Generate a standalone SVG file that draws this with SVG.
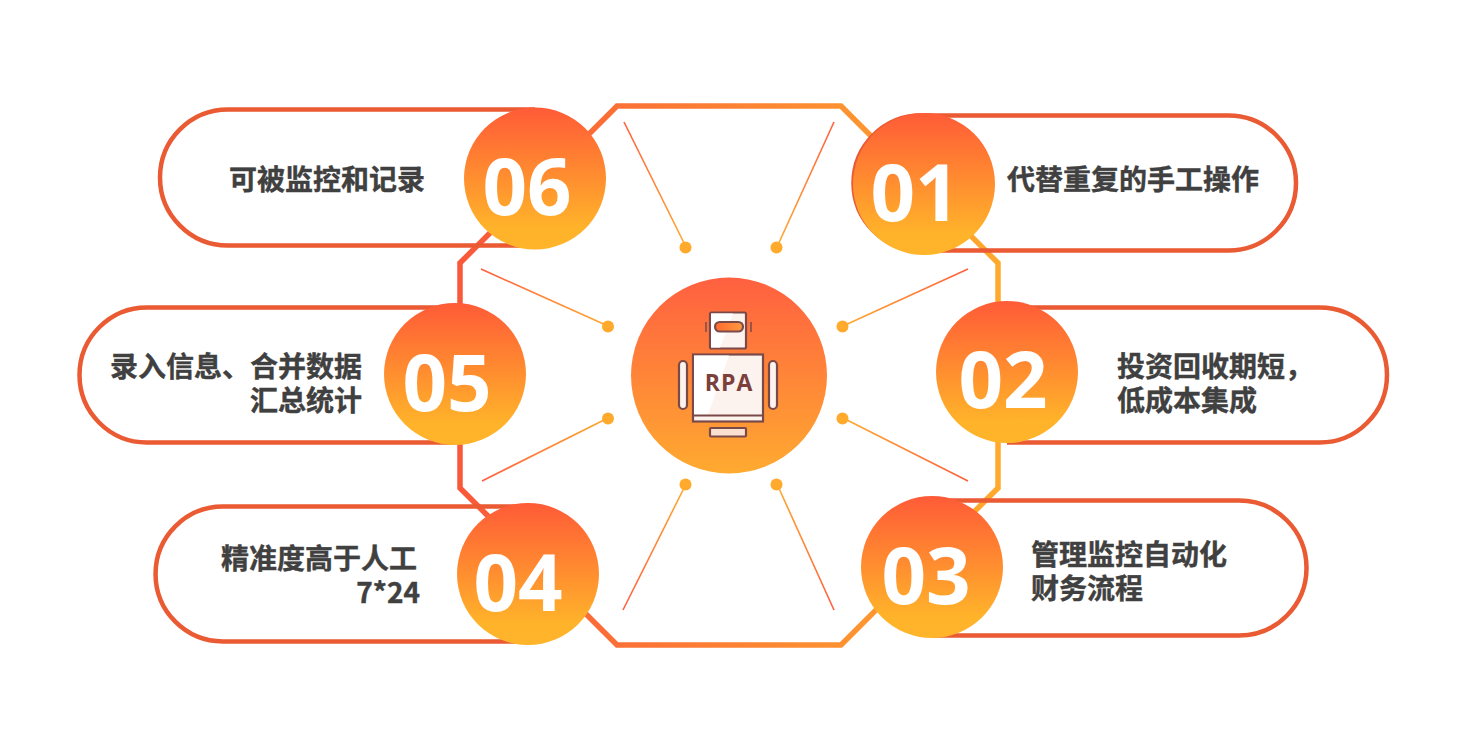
<svg xmlns="http://www.w3.org/2000/svg" width="1480" height="732" viewBox="0 0 1480 732">
<defs>
<linearGradient id="oct" gradientUnits="userSpaceOnUse" x1="460" y1="0" x2="999" y2="0"><stop offset="0" stop-color="#F9593A"/><stop offset="1" stop-color="#FFA92D"/></linearGradient>
<linearGradient id="disc" x1="0" y1="0" x2="0" y2="1"><stop offset="0" stop-color="#FF5B37"/><stop offset="0.85" stop-color="#FFB32A"/><stop offset="1" stop-color="#FFB42A"/></linearGradient>
<linearGradient id="hub" x1="0" y1="0" x2="0" y2="1"><stop offset="0" stop-color="#FF6040"/><stop offset="1" stop-color="#FFAA30"/></linearGradient>
<linearGradient id="visor" x1="0" y1="0" x2="1" y2="0"><stop offset="0" stop-color="#FF6A30"/><stop offset="1" stop-color="#FF9A40"/></linearGradient>
<linearGradient id="sTL" gradientUnits="userSpaceOnUse" x1="624" y1="122" x2="686" y2="247"><stop offset="0" stop-color="#FF5F3F"/><stop offset="1" stop-color="#FFA92D"/></linearGradient>
<linearGradient id="sTR" gradientUnits="userSpaceOnUse" x1="834" y1="122" x2="777" y2="247"><stop offset="0" stop-color="#FF5F3F"/><stop offset="1" stop-color="#FFA92D"/></linearGradient>
<linearGradient id="sLU" gradientUnits="userSpaceOnUse" x1="481" y1="269" x2="608" y2="326"><stop offset="0" stop-color="#FF5F3F"/><stop offset="1" stop-color="#FFA92D"/></linearGradient>
<linearGradient id="sRU" gradientUnits="userSpaceOnUse" x1="968" y1="269" x2="843" y2="326"><stop offset="0" stop-color="#FF5F3F"/><stop offset="1" stop-color="#FFA92D"/></linearGradient>
<linearGradient id="sLD" gradientUnits="userSpaceOnUse" x1="482" y1="481" x2="608" y2="418"><stop offset="0" stop-color="#FF5F3F"/><stop offset="1" stop-color="#FFA92D"/></linearGradient>
<linearGradient id="sRD" gradientUnits="userSpaceOnUse" x1="968" y1="481" x2="843" y2="418"><stop offset="0" stop-color="#FF5F3F"/><stop offset="1" stop-color="#FFA92D"/></linearGradient>
<linearGradient id="sBL" gradientUnits="userSpaceOnUse" x1="623" y1="610" x2="686" y2="484"><stop offset="0" stop-color="#FF5F3F"/><stop offset="1" stop-color="#FFA92D"/></linearGradient>
<linearGradient id="sBR" gradientUnits="userSpaceOnUse" x1="834" y1="610" x2="777" y2="484"><stop offset="0" stop-color="#FF5F3F"/><stop offset="1" stop-color="#FFA92D"/></linearGradient>
</defs>
<style>
.pill{fill:none;stroke:#EA5A33;stroke-width:4.500}
.spoke{fill:none;stroke-width:1.600}
.dot{fill:#FFAA2C}
.num{font-family:"Open Sans","Noto Sans",sans-serif;font-weight:700;font-size:78px;fill:#fff;text-anchor:middle}
.lab{font-family:"Noto Sans CJK SC","Noto Sans",sans-serif;font-weight:700;font-size:28px;fill:#404040;stroke:#404040;stroke-width:0.400}
.ico{stroke:#7B4A48;stroke-width:2.200;fill:#FDF3EE}
</style>
<rect width="1480" height="732" fill="#fff"/>
<g id="connectors">
<path d="M617 106H841L998 263V488L841 645H617L460 488V263Z" fill="none" stroke="url(#oct)" stroke-width="5.500"/>
<path class="spoke" stroke="url(#sTL)" d="M624 122L686 247"/>
<path class="spoke" stroke="url(#sTR)" d="M834 122L777 247"/>
<path class="spoke" stroke="url(#sLU)" d="M481 269L608 326"/>
<path class="spoke" stroke="url(#sRU)" d="M968 269L843 326"/>
<path class="spoke" stroke="url(#sLD)" d="M482 481L608 418"/>
<path class="spoke" stroke="url(#sRD)" d="M968 481L843 418"/>
<path class="spoke" stroke="url(#sBL)" d="M623 610L686 484"/>
<path class="spoke" stroke="url(#sBR)" d="M834 610L777 484"/>
<circle class="dot" cx="685.500" cy="247.500" r="6"/><circle class="dot" cx="776.500" cy="247.500" r="6"/>
<circle class="dot" cx="608" cy="326.500" r="6"/><circle class="dot" cx="842.500" cy="326.500" r="6"/>
<circle class="dot" cx="608" cy="418.500" r="6"/><circle class="dot" cx="842.500" cy="418.500" r="6"/>
<circle class="dot" cx="685.500" cy="484.500" r="6"/><circle class="dot" cx="776.500" cy="484.500" r="6"/>
</g>
<g id="node-hub">
<circle cx="729" cy="375.500" r="98" fill="url(#hub)"/>
<rect class="ico" x="710" y="312.500" width="36" height="36" rx="1.500"/>
<path d="M711 313.500H733L720 347.500H711Z" fill="#fff"/>
<path d="M706 322V332M751 322V332" stroke="#7B4A48" stroke-width="1.500" fill="none"/>
<rect x="715" y="322" width="28" height="9.500" rx="4.750" fill="url(#visor)" stroke="#7B4A48" stroke-width="2.200"/>
<rect class="ico" x="693" y="354.500" width="70" height="67"/>
<path d="M694 355.500H729L708 414.500H694Z" fill="#fff"/>
<path d="M693 415.500H763" stroke="#7B4A48" stroke-width="2.200"/>
<rect class="ico" x="679" y="361" width="8" height="48" rx="4"/>
<rect class="ico" x="769" y="361" width="8" height="48" rx="4"/>
<rect class="ico" x="710" y="428" width="36" height="8.500" rx="1" style="fill:#FBE0CF"/>
<text x="729" y="391" text-anchor="middle" font-family="'Open Sans','Noto Sans',sans-serif" font-weight="700" font-size="23" letter-spacing="1" fill="#7B3F3C">RPA</text>
</g>
<g id="node-01">
<path class="pill" d="M924 115.500H1228.500A67.500 67.500 0 0 1 1228.500 250.500H924"/>
<path class="pill" d="M921 115.500A67.500 67.500 0 0 0 921 250.500"/>
<circle cx="924" cy="184" r="71" fill="url(#disc)"/>
<text class="num" x="915" y="221">01</text>
<text class="lab" x="1007" y="190">代替重复的手工操作</text>
</g>
<g id="node-02">
<path class="pill" d="M1007 307.500H1319.500A67.500 67.500 0 0 1 1319.500 442.500H1007"/>
<circle cx="1007" cy="372" r="71" fill="url(#disc)"/>
<text class="num" x="1003" y="408">02</text>
<text class="lab"><tspan x="1117" y="377">投资回收期短，</tspan><tspan x="1117" y="411">低成本集成</tspan></text>
</g>
<g id="node-03">
<path class="pill" d="M932 500.500H1239A67.500 67.500 0 0 1 1239 635.500H932"/>
<circle cx="932" cy="567" r="71" fill="url(#disc)"/>
<text class="num" x="926" y="604">03</text>
<text class="lab"><tspan x="1031" y="565">管理监控自动化</tspan><tspan x="1031" y="599">财务流程</tspan></text>
</g>
<g id="node-04">
<path class="pill" d="M528 506.500H223A67.500 67.500 0 0 0 223 641.500H528"/>
<circle cx="528" cy="574" r="71" fill="url(#disc)"/>
<text class="num" x="518" y="611">04</text>
<text class="lab" text-anchor="end"><tspan x="417" y="569">精准度高于人工</tspan><tspan x="420" y="603">7*24</tspan></text>
</g>
<g id="node-05">
<path class="pill" d="M455 307.500H147A67.500 67.500 0 0 0 147 442.500H455"/>
<circle cx="455" cy="374" r="71" fill="url(#disc)"/>
<text class="num" x="447" y="411">05</text>
<text class="lab" text-anchor="end"><tspan x="362" y="377">录入信息、合并数据</tspan><tspan x="362" y="411">汇总统计</tspan></text>
</g>
<g id="node-06">
<path class="pill" d="M535 109.500H228A68 68 0 0 0 228 245.500H535"/>
<circle cx="535" cy="178.500" r="71" fill="url(#disc)"/>
<text class="num" x="527" y="215">06</text>
<text class="lab" x="229" y="190">可被监控和记录</text>
</g>
</svg>
